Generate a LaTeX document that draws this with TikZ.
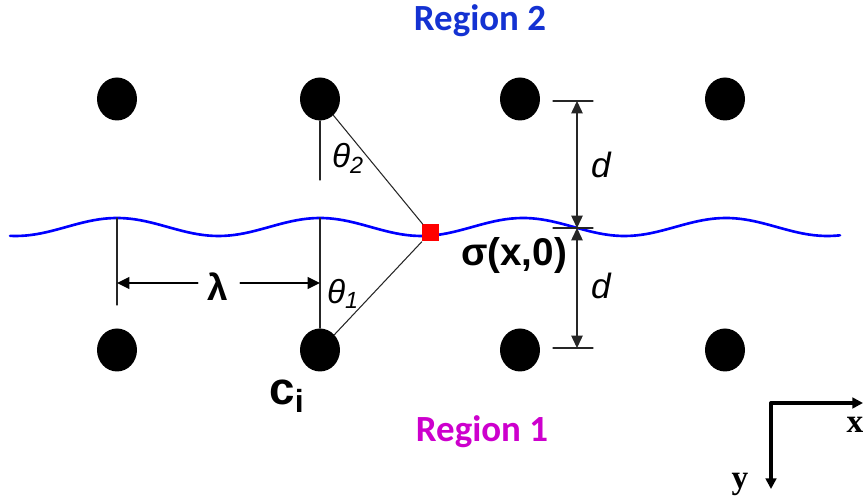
\documentclass[tikz,border=0pt]{standalone}
\usepackage{fontspec}
\setmainfont{Liberation Sans}
\newfontfamily\regionfont{Carlito}
\newfontfamily\axisfont{Liberation Serif}
\usetikzlibrary{arrows.meta, shapes.geometric}

\begin{document}
\begin{tikzpicture}[x=0.02cm, y=-0.02cm, line cap=round, line join=round,
    dot/.style={ellipse, fill=black, inner sep=0pt, minimum width=0.8cm, minimum height=0.86cm},
    probe/.style={rectangle, fill=red, inner sep=0pt, minimum size=0.34cm},
    thinline/.style={black!85, line width=0.6pt},
    dimarrow/.style={thinline, {Triangle[length=7pt,width=6.5pt]}-{Triangle[length=7pt,width=6.5pt]}},
    lamarrow/.style={black, line width=1.3pt, -{Triangle[length=7pt,width=6.5pt]}},
    axarrow/.style={black, line width=2pt, -{Triangle[length=6pt,width=6pt]}}]

  \useasboundingbox (0,0) rectangle (863,499);

  %% ---- particle rows ----
  \foreach \n/\x in {1/117, 2/320, 3/520, 4/725}{
    \node[dot] (t\n) at (\x,99)  {};
    \node[dot] (b\n) at (\x,350) {};
  }

  %% ---- interface ----
  \draw[blue, line width=1.5pt, domain=10:840, samples=160]
    plot (\x, {227-9*cos(1.7734*(\x-117))});

  %% ---- field point ----
  \node[probe] (sq) at (430,233) {};
  \draw[thinline] (t2) -- (sq);
  \draw[thinline] (b2) -- (sq);

  %% ---- reference verticals ----
  \coordinate (v2top) at (320,180);
  \coordinate (crest1) at (117,218);
  \coordinate (foot1) at (117,305);
  \coordinate (crest2) at (320,218);
  \draw[thinline] (t2) -- (v2top);
  \draw[thinline] (crest1) -- (foot1);
  \draw[thinline] (crest2) -- (b2);

  %% ---- wavelength ----
  \node[font=\fontsize{21}{21}\selectfont\bfseries] (lam) at (218,287) {λ};
  \coordinate (lamL) at (117,283);
  \coordinate (lamR) at (320,283);
  \draw[lamarrow] (lam.west |- lamL) ++(-4,0) -- (lamL);
  \draw[lamarrow] (lam.east |- lamR) ++(6,0) -- (lamR);

  %% ---- spacing d ----
  \coordinate (dtopL) at (553,101);  \coordinate (dtopR) at (593,101);
  \coordinate (dmidL) at (553,228);  \coordinate (dmidR) at (593,228);
  \coordinate (dbotL) at (553,348);  \coordinate (dbotR) at (593,348);
  \coordinate (dtop) at (577,101);
  \coordinate (dmid) at (577,228);
  \coordinate (dbot) at (577,348);
  \draw[thinline] (dtopL) -- (dtopR);
  \draw[thinline] (dmidL) -- (dmidR);
  \draw[thinline] (dbotL) -- (dbotR);
  \draw[dimarrow] (dtop) -- (dmid);
  \draw[dimarrow] (dmid) -- (dbot);
  \node[font=\fontsize{20}{20}\selectfont\itshape] (dup) at (601,165) {d};
  \node[font=\fontsize{20}{20}\selectfont\itshape] (ddn) at (601,286) {d};

  %% ---- labels ----
  \node[font=\fontsize{19}{19}\selectfont\itshape] (th2) at (348,158) {θ\textsubscript{2}};
  \node[font=\fontsize{19}{19}\selectfont\itshape] (th1) at (343,294) {θ\textsubscript{1}};
  \node[font=\fontsize{22}{22}\selectfont\bfseries] (sig) at (514,256) {σ(x,0)};
  \node[font=\fontsize{26}{26}\selectfont\bfseries] (ci) at (287,396) {c\textsubscript{i}};
  \node[font=\regionfont\fontsize{21}{21}\selectfont\bfseries, text={rgb,255:red,20;green,50;blue,210}] (reg2) at (480,21) {Region 2};
  \node[font=\regionfont\fontsize{21}{21}\selectfont\bfseries, text={rgb,255:red,205;green,0;blue,205}] (reg1) at (482,432) {Region 1};

  %% ---- axes ----
  \coordinate (orig) at (771,403);
  \coordinate (xend) at (863,403);
  \coordinate (yend) at (771,489);
  \draw[axarrow] (orig) -- (xend);
  \draw[axarrow] (orig) -- (yend);
  \node[font=\axisfont\fontsize{19}{19}\selectfont\bfseries] (xl) at (855,425) {x};
  \node[font=\axisfont\fontsize{19}{19}\selectfont\bfseries] (yl) at (740,484) {y};

\end{tikzpicture}
\end{document}
